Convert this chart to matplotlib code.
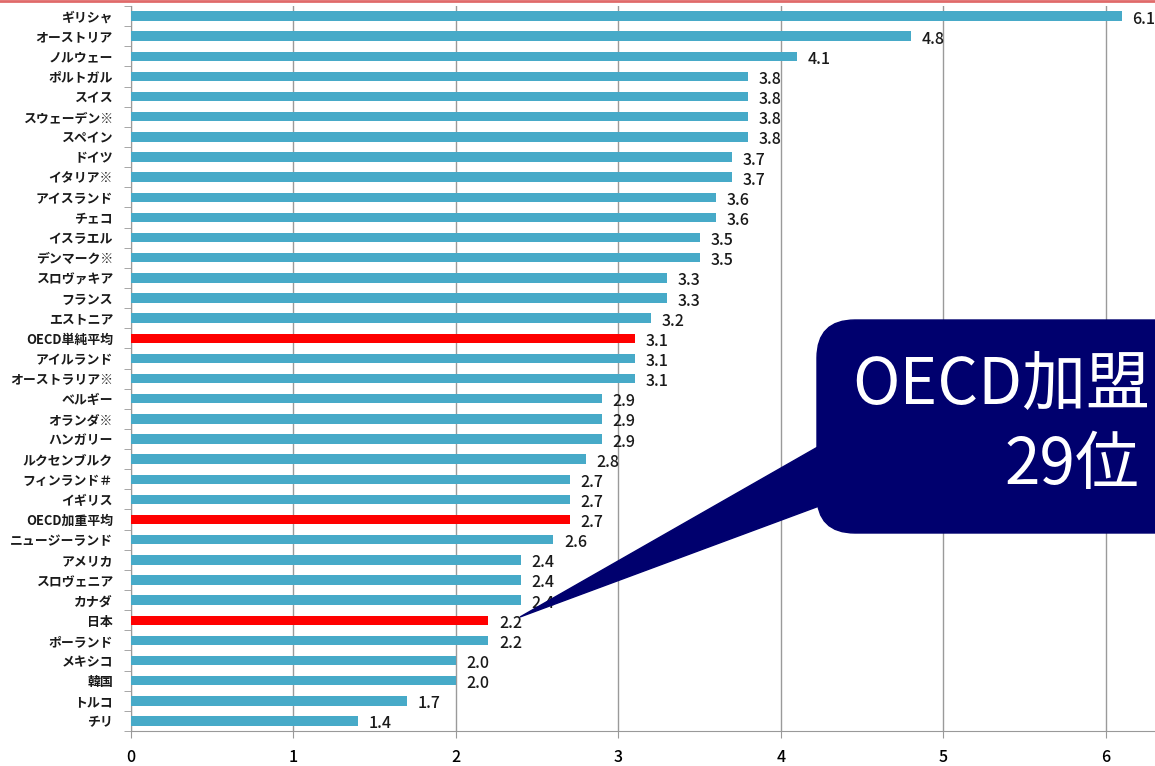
import matplotlib
matplotlib.use("Agg")
import matplotlib.pyplot as plt
from matplotlib.patches import FancyBboxPatch, Polygon
from matplotlib.lines import Line2D
from matplotlib.ticker import FixedLocator

plt.rcParams['font.family'] = ['Noto Sans CJK JP', 'DejaVu Sans']

categories = ["ギリシャ", "オーストリア", "ノルウェー", "ポルトガル", "スイス", "スウェーデン※",
              "スペイン", "ドイツ", "イタリア※", "アイスランド", "チェコ", "イスラエル",
              "デンマーク※", "スロヴァキア", "フランス", "エストニア", "OECD単純平均", "アイルランド",
              "オーストラリア※", "ベルギー", "オランダ※", "ハンガリー", "ルクセンブルク", "フィンランド＃",
              "イギリス", "OECD加重平均", "ニュージーランド", "アメリカ", "スロヴェニア", "カナダ",
              "日本", "ポーランド", "メキシコ", "韓国", "トルコ", "チリ"]
values = [6.1, 4.8, 4.1, 3.8, 3.8, 3.8, 3.8, 3.7, 3.7, 3.6, 3.6, 3.5, 3.5, 3.3, 3.3, 3.2,
          3.1, 3.1, 3.1, 2.9, 2.9, 2.9, 2.8, 2.7, 2.7, 2.7, 2.6, 2.4, 2.4, 2.4,
          2.2, 2.2, 2.0, 2.0, 1.7, 1.4]
highlight = ["OECD単純平均", "OECD加重平均", "日本"]
x_ticks = [0, 1, 2, 3, 4, 5, 6]

W, H = 1155, 766
fig = plt.figure(figsize=(W / 100, H / 100), dpi=100)
ax = fig.add_axes([131 / W, 35 / H, 1056 / W, 725 / H])

n = len(categories)
ypos = list(range(n))[::-1]
colors = ['#ff0000' if c in highlight else '#47aac8' for c in categories]
ax.barh(ypos, values, height=0.47, color=colors, zorder=3)

for y, v in zip(ypos, values):
    ax.text(v + 0.065, y - 0.15, f"{v:.1f}", va='center', ha='left', fontsize=11.5,
            fontweight='medium', color='#1a1a1a', zorder=4)

ax.set_xlim(0, 6.5)
ax.set_ylim(-0.5, n - 0.5)
ax.set_xticks(x_ticks)
ax.set_xticklabels([str(t) for t in x_ticks], fontsize=11.5, fontweight='medium')
ax.set_yticks(ypos)
ax.set_yticklabels(categories, fontsize=9.3, fontweight='bold', color='#1a1a1a')
ax.yaxis.set_minor_locator(FixedLocator([i - 0.5 for i in range(n + 1)]))
ax.tick_params(axis='y', which='major', length=0, pad=13)
ax.tick_params(axis='y', which='minor', length=5, color='#999999', direction='out')
ax.tick_params(axis='x', length=5, color='#999999', pad=8)
ax.grid(axis='x', color='#9a9a9a', linewidth=1, zorder=0)
for s in ['top', 'right']:
    ax.spines[s].set_visible(False)
for s in ['left', 'bottom']:
    ax.spines[s].set_color('#999999')

# top red line
fig.add_artist(Line2D([0, 1], [1 - 1 / H, 1 - 1 / H], transform=fig.transFigure,
                      color='#e06a6a', linewidth=2))

# callout
def fx(px):
    return px / W

def fy(py):
    return (H - py) / H

navy = '#00006e'
tail = Polygon([(fx(520), fy(617)), (fx(830), fy(440)), (fx(830), fy(502))],
               closed=True, transform=fig.transFigure, facecolor=navy, edgecolor=navy, zorder=5)
fig.add_artist(tail)
box = FancyBboxPatch((817, H - 533), 500, 213, boxstyle="round,pad=0,rounding_size=38",
                     transform=None, facecolor=navy, edgecolor=navy, zorder=5)
fig.add_artist(box)
fig.text(fx(852), fy(404), "OECD加盟国中", color='white', fontsize=46, ha='left',
         va='baseline', zorder=6)
fig.text(fx(1072), fy(484), "29位", color='white', fontsize=46, ha='center',
         va='baseline', zorder=6)

fig.savefig("out.png", dpi=100)
